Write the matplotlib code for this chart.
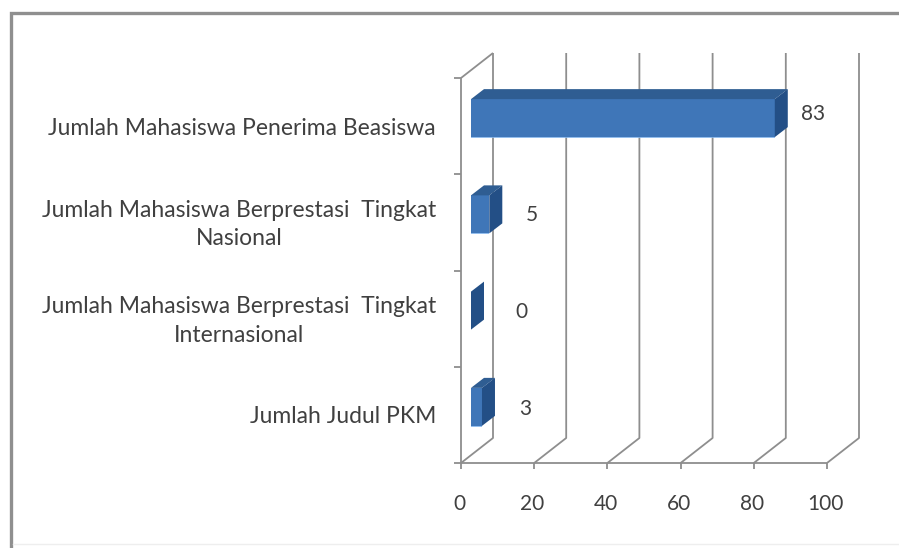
import matplotlib
matplotlib.use('Agg')
import matplotlib.pyplot as plt
from matplotlib.patches import Rectangle
from matplotlib.lines import Line2D

categories = [
    'Jumlah Mahasiswa Penerima Beasiswa',
    'Jumlah Mahasiswa Berprestasi  Tingkat\nNasional',
    'Jumlah Mahasiswa Berprestasi  Tingkat\nInternasional',
    'Jumlah Judul PKM',
]
values = [83, 5, 0, 3]
x_ticks = [0, 20, 40, 60, 80, 100]

# 3d look, in pixels
WALL_DX, WALL_DY = 32, 25
BAR_X, BAR_Y = 10, 8
BAR_DX, BAR_DY = 13, 10
BAR_H = 38
# data labels were moved by hand in the original
label_dx = [38, 43, 50, 43]
label_dy = [4, -1, -1, -2]

plt.rcParams['font.family'] = ['Lato', 'DejaVu Sans']
TXT = '#404040'
GRID = '#8e8e8e'
FRONT, TOP, SIDE = '#3f76b8', '#2f5d92', '#234f86'

W, H = 899, 548
fig = plt.figure(figsize=(W / 100, H / 100), dpi=100)
fig.patch.set_facecolor('white')
fig.add_artist(Rectangle((10.5 / W, -0.01), 1.1, 1 - 12.5 / H + 0.01, transform=fig.transFigure,
                         fill=False, ec='#8f8f8f', lw=2.4))
fig.add_artist(Line2D([13 / W, 1], [1 - 544 / H, 1 - 544 / H], color='#eeeeee', lw=1))

ax = fig.add_axes([461 / W, 1 - 463 / H, 366 / W, 385 / H])
ax.set_xlim(0, 100)
ax.set_ylim(len(values), 0)
ax.axis('off')

px = 100 / 366
py = len(values) / 385
wdx = WALL_DX * px
wdy = WALL_DY * py
n = len(values)


def line(xs, ys, lw=1.3, color=GRID):
    ax.plot(xs, ys, color=color, lw=lw, clip_on=False, solid_capstyle='butt', zorder=1)


# walls and floor
line([0, 100], [n, n])
line([0, 0], [0, n])
line([0, wdx], [0, -wdy])
for t in x_ticks:
    line([t, t + wdx, t + wdx], [n, n - wdy, -wdy])
    line([t, t], [n, n + 6 * py])
    ax.text(t - 0.5, n + 41 * py, str(t), ha='center', va='center', fontsize=15, color=TXT)
for i in range(n + 1):
    line([0, -7 * px], [i, i])

for i, (cat, v) in enumerate(zip(categories, values)):
    x0 = BAR_X * px
    x1 = x0 + v * 3.66 * px
    yc = i + 0.5 - BAR_Y * py
    y0 = yc - BAR_H * py / 2
    y1 = yc + BAR_H * py / 2
    dx = BAR_DX * px
    dy = BAR_DY * py
    kw = dict(clip_on=False, zorder=3, lw=0)
    if v > 0:
        ax.fill([x0, x1, x1, x0], [y0, y0, y1, y1], color=FRONT, **kw)
        ax.fill([x0, x0 + dx, x1 + dx, x1], [y0, y0 - dy, y0 - dy, y0], color=TOP, **kw)
        line([x0, x1], [y1, y1], lw=1.2, color='#7fb2ea')
    ax.fill([x1, x1 + dx, x1 + dx, x1], [y0, y0 - dy, y1 - dy, y1], color=SIDE, **kw)
    ax.annotate(str(v), (x1, yc), xytext=(label_dx[i] * 0.72, label_dy[i] * 0.72),
                textcoords='offset points', ha='center', va='center', fontsize=15, color=TXT)
    ax.annotate(cat, (0, i + 0.5), xytext=(-25 * 0.72, -1.5), textcoords='offset points',
                ha='right', va='center', multialignment='center', fontsize=16.5,
                color=TXT, linespacing=1.45, annotation_clip=False)

fig.savefig('out.png', dpi=100)
